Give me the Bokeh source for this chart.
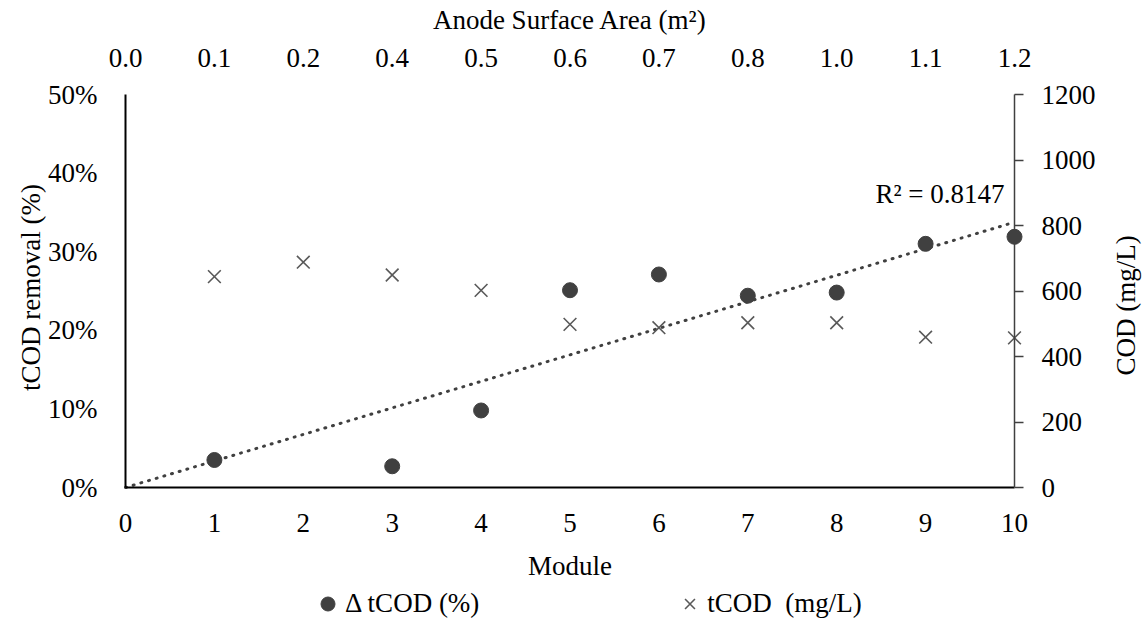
import math
from bokeh.plotting import figure
from bokeh.models import (Range1d, LinearAxis, FixedTicker, PrintfTickFormatter,
                          Legend, LegendItem, Label)
from bokeh.embed import file_html
from bokeh.resources import INLINE

# ---- data ----
modules = [0, 1, 2, 3, 4, 5, 6, 7, 8, 9, 10]
area_labels = ["0.0", "0.1", "0.2", "0.4", "0.5", "0.6", "0.7", "0.8", "1.0", "1.1", "1.2"]
removal_modules = [1, 3, 4, 5, 6, 7, 8, 9, 10]
removal_pct = [3.5, 2.7, 9.8, 25.1, 27.1, 24.4, 24.8, 31.0, 31.9]
cod_modules = [1, 2, 3, 4, 5, 6, 7, 8, 9, 10]
cod_mgL = [644, 688, 649, 602, 498, 488, 503, 503, 459, 457]
trend_x = [0, 10]
trend_y = [0, 33.75]
r2_text = "R² = 0.8147"
left_ticks = [0, 10, 20, 30, 40, 50]
right_ticks = [0, 200, 400, 600, 800, 1000, 1200]
X_MAX = 10
L_MAX = 50
R_MAX = 1200

FONT = "Liberation Serif"
FS = "27px"

# ---- layout (pixels): the frame fills the whole page; the plot area sits inside it
W, H = 1145, 623
PL, PR, PT, PB = 125, 1014, 94, 487     # plot-area edges
sx_per = (PR - PL) / X_MAX
sl_per = (PB - PT) / L_MAX
sr_per = (PB - PT) / R_MAX

p = figure(frame_width=W, frame_height=H, output_backend="svg", toolbar_location=None,
           x_range=Range1d(-PL / sx_per, X_MAX + (W - PR) / sx_per),
           y_range=Range1d(-(H - PB) / sl_per, L_MAX + PT / sl_per),
           min_border=0)
p.outline_line_color = None
p.xgrid.visible = False
p.ygrid.visible = False
p.background_fill_color = "white"
p.border_fill_color = "white"

p.extra_y_ranges = {"cod": Range1d(-(H - PB) / sr_per, R_MAX + PT / sr_per)}

def style_axis(ax):
    ax.major_label_text_font = FONT
    ax.major_label_text_font_size = FS
    ax.major_label_text_color = "black"
    ax.axis_label_text_font = FONT
    ax.axis_label_text_font_size = FS
    ax.axis_label_text_font_style = "normal"
    ax.axis_label_text_color = "black"
    ax.minor_tick_line_color = None

# bottom axis
xa = p.xaxis[0]
style_axis(xa)
xa.fixed_location = 0
xa.bounds = (0, X_MAX)
xa.ticker = FixedTicker(ticks=modules)
xa.axis_label = "Module"
xa.axis_line_color = "black"
xa.axis_line_width = 2
xa.major_tick_line_color = None
xa.major_tick_out = 0
xa.major_tick_in = 0
xa.major_label_standoff = 26
xa.axis_label_standoff = 16

# left axis
ya = p.yaxis[0]
style_axis(ya)
ya.fixed_location = 0
ya.bounds = (0, L_MAX)
ya.ticker = FixedTicker(ticks=left_ticks)
ya.formatter = PrintfTickFormatter(format="%d%%")
ya.axis_line_color = "black"
ya.axis_line_width = 2
ya.major_tick_line_color = None
ya.major_tick_out = 0
ya.major_tick_in = 0
ya.major_label_standoff = 28

# right axis
ra = LinearAxis(y_range_name="cod", ticker=FixedTicker(ticks=right_ticks),
                bounds=(0, R_MAX), fixed_location=X_MAX)
style_axis(ra)
ra.axis_line_color = "#404040"
ra.axis_line_width = 1.5
ra.major_tick_line_color = "#404040"
ra.major_tick_line_width = 1.5
ra.major_tick_out = 9
ra.major_tick_in = 0
ra.major_label_standoff = 18
p.add_layout(ra, "right")

# top axis
ta = LinearAxis(ticker=FixedTicker(ticks=modules), axis_label="Anode Surface Area (m²)",
                bounds=(0, X_MAX), fixed_location=L_MAX)
style_axis(ta)
ta.major_label_overrides = {m: lab for m, lab in zip(modules, area_labels)}
ta.axis_line_color = None
ta.major_tick_line_color = None
ta.major_tick_out = 0
ta.major_tick_in = 0
ta.major_label_standoff = 28
ta.axis_label_standoff = 11
p.add_layout(ta, "above")

# vertical axis titles (read bottom to top)
p.add_layout(Label(x=30, y=H - 287, x_units="screen", y_units="screen",
                   text="tCOD removal (%)", angle=math.pi / 2,
                   text_align="center", text_baseline="middle",
                   text_font=FONT, text_font_size=FS, text_color="black"))
p.add_layout(Label(x=1125, y=H - 305, x_units="screen", y_units="screen",
                   text="COD (mg/L)", angle=math.pi / 2,
                   text_align="center", text_baseline="middle",
                   text_font=FONT, text_font_size=FS, text_color="black"))

# trend line
p.line(trend_x, trend_y, line_color="#404040", line_width=3, line_dash="1 7",
       line_cap="round")

# data
circ = p.scatter(removal_modules, removal_pct, marker="circle", size=15,
                 fill_color="#404040", line_color="#404040")
cross = p.scatter(cod_modules, cod_mgL, y_range_name="cod", marker="x", size=18,
                  line_color="#595959", line_width=1.6)

p.add_layout(Label(x=trend_x[-1], y=trend_y[-1], text=r2_text, x_offset=-10, y_offset=28,
                   text_align="right", text_baseline="alphabetic",
                   text_font=FONT, text_font_size=FS, text_color="black"))

legend = Legend(items=[LegendItem(label="Δ tCOD (%)", renderers=[circ]),
                       LegendItem(label="tCOD  (mg/L)", renderers=[cross])],
                orientation="horizontal", location=(PL + 185, 2),
                spacing=193, label_standoff=0, glyph_width=35, glyph_height=35,
                padding=0, margin=0, border_line_color=None,
                background_fill_alpha=0,
                label_text_font=FONT, label_text_font_size=FS,
                label_text_color="black")
p.add_layout(legend, "center")

open("out.html", "w").write(file_html(p, INLINE))
